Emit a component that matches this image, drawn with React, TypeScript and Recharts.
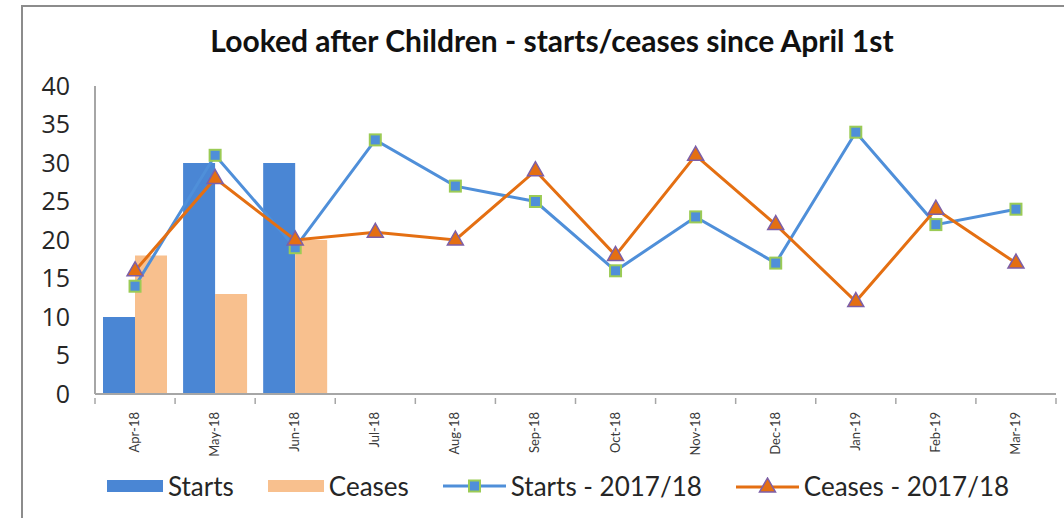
import React from 'react';
import {
  ComposedChart, Bar, Line, XAxis, YAxis, Legend,
} from 'recharts';

const months = ['Apr-18', 'May-18', 'Jun-18', 'Jul-18', 'Aug-18', 'Sep-18', 'Oct-18', 'Nov-18', 'Dec-18', 'Jan-19', 'Feb-19', 'Mar-19'];
const starts = [10, 30, 30];
const ceases = [18, 13, 20];
const startsPrev = [14, 31, 19, 33, 27, 25, 16, 23, 17, 34, 22, 24];
const ceasesPrev = [16, 28, 20, 21, 20, 29, 18, 31, 22, 12, 24, 17];
const yTicks = [0, 5, 10, 15, 20, 25, 30, 35, 40];

const data = months.map((m, i) => ({
  month: m,
  starts: starts[i],
  ceases: ceases[i],
  startsPrev: startsPrev[i],
  ceasesPrev: ceasesPrev[i],
}));

const W = 1064;
const H = 518;
const margin = { top: 86, right: 8, bottom: 8, left: 0 };
const yAxisWidth = 95;
const band = (W - margin.right - yAxisWidth) / months.length;

const BLUE_BAR = '#4a86d4';
const PEACH = '#f8c08e';
const BLUE_LINE = '#4f8fd9';
const ORANGE = '#e46f12';
const GREEN = '#9bcb55';
const PURPLE = '#7d5fa8';
const AXIS = '#a6a6a6';
const FONT = 'Lato, "Open Sans", sans-serif';

const SquareDot = ({ cx, cy }: any) => {
  if (cx == null || cy == null) return null;
  return <rect x={cx - 5.5} y={cy - 5.5} width={11} height={11} fill={BLUE_LINE} stroke={GREEN} strokeWidth={2} />;
};

const TriangleDot = ({ cx, cy }: any) => {
  if (cx == null || cy == null) return null;
  return (
    <polygon
      points={`${cx},${cy - 9} ${cx - 8},${cy + 5} ${cx + 8},${cy + 5}`}
      fill={ORANGE}
      stroke={PURPLE}
      strokeWidth={1.5}
    />
  );
};

// rotated month label plus the Excel-style tick marks on category edges
const MonthTick = ({ x, y, payload, index }: any) => (
  <g>
    <line x1={x - band / 2} y1={y - 4} x2={x - band / 2} y2={y + 2} stroke={AXIS} strokeWidth={1.5} />
    {index === months.length - 1 && (
      <line x1={x + band / 2} y1={y - 4} x2={x + band / 2} y2={y + 2} stroke={AXIS} strokeWidth={1.5} />
    )}
    <text
      x={0}
      y={0}
      transform={`translate(${x + 4},${y + 10}) rotate(-90)`}
      textAnchor="end"
      fontSize={13}
      fill="#3a3a3a"
      fontFamily={FONT}
    >
      {payload.value}
    </text>
  </g>
);

const LegendContent = () => {
  const text = { fontSize: 26, color: '#262626', fontFamily: FONT };
  const item = { display: 'flex', alignItems: 'center', gap: 5 };
  return (
    <div style={{ display: 'flex', alignItems: 'center', height: 48, paddingLeft: 107, gap: 34 }}>
      <div style={item}>
        <div style={{ width: 56, height: 12, background: BLUE_BAR }} />
        <span style={text}>Starts</span>
      </div>
      <div style={item}>
        <div style={{ width: 56, height: 12, background: PEACH }} />
        <span style={text}>Ceases</span>
      </div>
      <div style={item}>
        <svg width={63} height={16}>
          <line x1={0} y1={8} x2={63} y2={8} stroke={BLUE_LINE} strokeWidth={3} />
          <SquareDot cx={31.5} cy={8} />
        </svg>
        <span style={text}>Starts - 2017/18</span>
      </div>
      <div style={item}>
        <svg width={63} height={18}>
          <line x1={0} y1={10} x2={63} y2={10} stroke={ORANGE} strokeWidth={3} />
          <TriangleDot cx={31.5} cy={10} />
        </svg>
        <span style={text}>Ceases - 2017/18</span>
      </div>
    </div>
  );
};

export default function App() {
  return (
    <div style={{ position: 'fixed', left: 0, top: 0, width: W, height: H, background: '#fff' }}>
      <div
        style={{
          position: 'absolute', left: 21, top: 5, right: 0, bottom: 0,
          borderLeft: '2px solid #8c8c8c', borderTop: '2px solid #8c8c8c',
        }}
      />
      <div
        style={{
          position: 'absolute', left: 0, width: 1104, top: 22, textAlign: 'center',
          fontFamily: FONT, fontWeight: 700, fontSize: 30, color: '#111',
        }}
      >
        Looked after Children - starts/ceases since April 1st
      </div>
      <ComposedChart
        width={W}
        height={H}
        data={data}
        margin={margin}
        barCategoryGap="10%"
        barGap={0}
        style={{ position: 'absolute', left: 0, top: 0 }}
      >
        <XAxis
          dataKey="month"
          height={68}
          interval={0}
          tick={<MonthTick />}
          tickLine={false}
          axisLine={{ stroke: AXIS, strokeWidth: 2 }}
        />
        <YAxis
          width={yAxisWidth}
          domain={[0, 40]}
          ticks={yTicks}
          interval={0}
          tickSize={0}
          tickMargin={25}
          tick={{ fill: '#262626', fontSize: 25, fontFamily: '"Open Sans", sans-serif' }}
          axisLine={{ stroke: AXIS, strokeWidth: 2 }}
          tickLine={false}
        />
        <Legend verticalAlign="bottom" align="left" height={48} content={<LegendContent />} />
        <Bar dataKey="starts" fill={BLUE_BAR} isAnimationActive={false} />
        <Bar dataKey="ceases" fill={PEACH} isAnimationActive={false} />
        <Line
          dataKey="startsPrev"
          stroke={BLUE_LINE}
          strokeWidth={3}
          dot={<SquareDot />}
          activeDot={false}
          isAnimationActive={false}
        />
        <Line
          dataKey="ceasesPrev"
          stroke={ORANGE}
          strokeWidth={3}
          dot={<TriangleDot />}
          activeDot={false}
          isAnimationActive={false}
        />
      </ComposedChart>
    </div>
  );
}
